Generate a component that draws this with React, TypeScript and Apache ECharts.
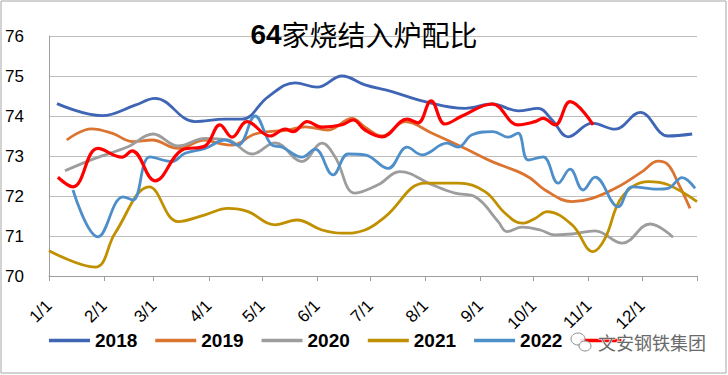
import React, { useEffect, useRef } from "react";
import * as echarts from "echarts";

// [dayOfYear, value]
const s2018: [number, number][] = [
  [4.5, 74.31], [29.9, 74.01], [48.5, 74.27], [59.7, 74.44], [82.3, 73.86], [99.2, 73.92],
  [108.7, 73.92], [123.4, 74.48], [138.6, 74.83], [151, 74.72], [165.1, 75.0], [178, 74.78],
  [193.2, 74.61], [211.8, 74.36], [234.4, 74.19], [249.6, 74.3], [264.2, 74.13], [275.5, 74.19],
  [283.4, 73.9], [292.4, 73.48], [305.9, 73.82], [318.9, 73.67], [333, 74.09], [348.7, 73.5],
  [362.3, 73.55],
];
const s2019: [number, number][] = [
  [10, 73.4], [24, 73.68], [35.5, 73.57], [47.3, 73.36], [58, 73.4], [72.7, 73.19], [87.9, 73.4],
  [95.2, 73.32], [103.1, 73.27], [116.1, 73.55], [134.6, 73.65], [144.2, 73.73], [157.2, 73.65],
  [170.7, 73.94], [178, 73.72], [187.6, 73.5], [200.6, 73.86], [215.8, 73.57], [234.4, 73.19],
  [249.6, 72.86], [264.2, 72.61], [271, 72.45], [279.4, 72.15], [294.6, 71.86], [305.9, 71.94],
  [320.6, 72.23], [334.1, 72.61], [343.1, 72.87], [348.7, 72.78], [354.4, 72.32], [361.1, 71.69],
];
const s2020: [number, number][] = [
  [9, 72.63], [25.9, 72.94], [44.5, 73.23], [58.6, 73.55], [72.7, 73.25], [87.9, 73.44],
  [100.8, 73.4], [114.4, 73.05], [127.3, 73.33], [142.5, 72.86], [153.8, 73.32], [161.1, 72.98],
  [172.4, 72.07], [185.4, 72.28], [197.7, 72.61], [215.8, 72.28], [228.7, 72.07], [240, 71.98],
  [253, 71.36], [258, 71.11], [266.5, 71.22], [276.6, 71.15], [285, 71.03], [294.6, 71.05],
  [307.6, 71.13], [322.8, 70.82], [338.6, 71.3], [351.5, 70.97],
];
const s2021: [number, number][] = [
  [0, 70.63], [26, 70.22], [37.2, 71.07], [56.5, 72.23], [72.7, 71.36], [87.9, 71.53],
  [100.8, 71.69], [112.1, 71.61], [127.3, 71.28], [139.7, 71.4], [153.8, 71.15], [165.1, 71.07],
  [178, 71.15], [189.3, 71.48], [211.8, 72.32], [230.4, 72.32], [245.6, 72.11], [256.9, 71.57],
  [266.5, 71.32], [273.8, 71.44], [280.6, 71.61], [294.6, 71.28], [306.5, 70.61], [313.2, 70.94],
  [322.8, 71.98], [337.5, 72.36], [348.7, 72.28], [365, 71.86],
];
const s2022: [number, number][] = [
  [13.5, 72.15], [27.6, 70.98], [41.7, 71.98], [47.3, 71.9], [56.9, 72.98], [69.3, 72.86],
  [76.6, 73.07], [87.9, 73.19], [99.2, 73.4], [106.5, 73.27], [116.1, 74.0], [125.6, 73.27],
  [131.3, 73.22], [142.5, 72.97], [149.9, 73.17], [160, 72.53], [168.5, 73.05], [178, 73.03],
  [191, 72.69], [201.7, 73.22], [210.1, 73.03], [224.2, 73.32], [230.4, 73.22], [238.3, 73.53],
  [250.1, 73.61], [258.6, 73.47], [264.2, 73.57], [269.9, 72.9], [278.3, 72.98], [286.8, 72.32],
  [293.5, 72.67], [300.8, 72.15], [307.6, 72.47], [320.6, 71.73], [328.5, 72.23], [343.1, 72.17],
  [348.7, 72.19], [356.6, 72.46], [363.9, 72.19],
];
const s2023: [number, number][] = [
  [5, 72.47], [13.5, 72.23], [27.6, 73.19], [41.1, 72.97], [46.8, 73.13], [59.7, 72.38],
  [74.9, 73.15], [87.9, 73.25], [96.3, 73.78], [103.1, 73.47], [111.5, 73.86], [124.5, 73.5],
  [133, 73.67], [137.5, 73.61], [145.4, 73.86], [153.8, 73.72], [165.1, 73.78], [171.3, 73.9],
  [178, 73.65], [187.6, 73.48], [201.7, 73.92], [207.9, 73.83], [215.2, 74.38], [223.1, 73.8],
  [232.7, 74.0], [249.6, 74.3], [264.2, 73.78], [273.8, 73.86], [278.3, 73.94], [285.1, 73.78],
  [293.5, 74.36], [306.5, 73.78],
];

const seriesNames = ["2018", "2019", "2020", "2021", "2022", "2023"];
const seriesData = [s2018, s2019, s2020, s2021, s2022, s2023];
const seriesColors = ["#3F65B5", "#DB7430", "#9D9D9D", "#C09000", "#4E8FCA", "#FF0000"];
const monthStarts = [0, 31, 59, 90, 120, 151, 181, 212, 243, 273, 304, 334];
const monthLabels = ["1/1", "2/1", "3/1", "4/1", "5/1", "6/1", "7/1", "8/1", "9/1", "10/1", "11/1", "12/1"];
const yearEnd = 365;
const titleNum = "64";
const titleText = "家烧结入炉配比";
const watermark = "文安钢铁集团";

export default function App() {
  const ref = useRef<HTMLDivElement>(null);
  useEffect(() => {
    if (!ref.current) return;
    const chart = echarts.init(ref.current, null, { renderer: "svg" });
    const font = "'Liberation Sans', Arial, sans-serif";
    chart.setOption({
      animation: false,
      backgroundColor: "#ffffff",
      title: {
        text: `{a|${titleNum}}{b|${titleText}}`,
        left: "center",
        top: 15,
        textStyle: {
          rich: {
            a: { fontSize: 28, fontWeight: "bold", fontFamily: font, color: "#000" },
            b: { fontSize: 28, fontWeight: "normal", fontFamily: "'Noto Sans CJK SC', sans-serif", color: "#000" },
          },
        },
      },
      legend: {
        left: 44,
        top: 326,
        itemWidth: 41,
        itemHeight: 14,
        itemGap: 18,
        data: seriesNames.map((n, i) => ({
          name: n,
          icon: "path://M0,5.5 L41,5.5 L41,9 L0,9 Z",
          itemStyle: { color: seriesColors[i] },
        })),
        formatter: (n: string) => (n === "2023" ? "" : n),
        textStyle: { fontSize: 19, fontWeight: "bold", fontFamily: font, color: "#000" },
      },
      grid: { left: 49, right: 31, top: 36, bottom: 99 },
      xAxis: {
        type: "value",
        min: 0,
        max: yearEnd,
        axisLine: { show: true, lineStyle: { color: "#9f9f9f", width: 1 } },
        axisTick: {
          show: true,
          inside: false,
          length: 5,
          customValues: [...monthStarts, yearEnd],
          lineStyle: { color: "#9f9f9f" },
        },
        axisLabel: {
          customValues: monthStarts,
          rotate: 45,
          margin: 27,
          fontSize: 17,
          fontFamily: font,
          color: "#000",
          formatter: (v: number) => {
            const i = monthStarts.indexOf(Math.round(v));
            return i >= 0 ? monthLabels[i] : "";
          },
        },
        splitLine: { show: false },
      },
      yAxis: {
        type: "value",
        min: 70,
        max: 76,
        interval: 1,
        axisLine: { show: true, lineStyle: { color: "#9f9f9f", width: 1 } },
        axisTick: { show: false },
        axisLabel: { fontSize: 17, fontFamily: font, color: "#000", align: "left", margin: 44 },
        splitLine: { show: true, lineStyle: { color: "#bdbdbd", width: 1.2 } },
      },
      series: seriesNames.map((n, i) => ({
        name: n,
        type: "line",
        data: seriesData[i],
        smooth: 0.4,
        symbol: "none",
        z: i === 5 ? 10 : 2 + i,
        lineStyle: { color: seriesColors[i], width: i === 5 ? 3.2 : 2.8 },
        itemStyle: { color: seriesColors[i] },
      })),
      graphic: [
        {
          type: "rect",
          shape: { x: 1, y: 1, width: 725, height: 372 },
          style: { fill: "none", stroke: "#a6a6a6", lineWidth: 1 },
          silent: true,
        },
        {
          type: "ellipse",
          shape: { cx: 578, cy: 339, rx: 7, ry: 6 },
          style: { fill: "rgba(255,255,255,0.85)", stroke: "#8a8a8a", lineWidth: 1 },
          z: 100,
        },
        {
          type: "ellipse",
          shape: { cx: 585, cy: 346, rx: 6, ry: 5 },
          style: { fill: "rgba(255,255,255,0.85)", stroke: "#8a8a8a", lineWidth: 1 },
          z: 100,
        },
        {
          type: "text",
          x: 598,
          y: 342,
          style: {
            text: watermark,
            fontSize: 18,
            fontFamily: "'Noto Sans CJK SC', sans-serif",
            fill: "#6a6a6a",
            stroke: "#ffffff",
            lineWidth: 1,
            verticalAlign: "middle",
          },
          z: 100,
        },
      ],
    });
    return () => chart.dispose();
  }, []);
  return (
    <div
      ref={ref}
      style={{ position: "fixed", left: 0, top: 0, width: 728, height: 375 }}
    />
  );
}
